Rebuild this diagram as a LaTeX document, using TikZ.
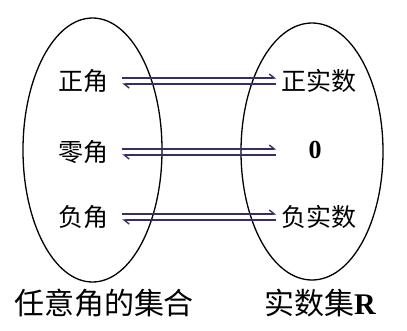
\documentclass[tikz,border=0pt]{standalone}
\usepackage{fontspec}
\setmainfont{Liberation Serif}
\newfontfamily\cjk{Noto Sans CJK SC}
\usetikzlibrary{arrows.meta}
\definecolor{arrcol}{RGB}{55,45,105}
\tikzset{
  lab/.style={font=\cjk\fontsize{25}{27}\selectfont, inner sep=0pt, text=black},
  blab/.style={font=\cjk\fontsize{30}{32}\selectfont, inner sep=0pt, text=black},
  setell/.style={draw=black, line width=1.3pt},
  harp/.style={draw=arrcol, line width=1.4pt, -{Straight Barb[left,length=5pt,width=8pt]}}
}
\begin{document}
\begin{tikzpicture}[x=1pt,y=-1pt]
\useasboundingbox (0,0) rectangle (407,330);
\draw[setell] (92.5,150) ellipse [x radius=69.5, y radius=132];
\draw[setell] (312,151.5) ellipse [x radius=71, y radius=128.5];
\node[lab] (l1) at (83,81) {正角};
\node[lab] (l2) at (83,152) {零角};
\node[lab] (l3) at (83,217) {负角};
\node[lab] (r1) at (319,81) {正实数};
\node[font=\fontsize{26}{28}\selectfont\bfseries, inner sep=0pt] (r2) at (315,150) {0};
\node[lab] (r3) at (319,217) {负实数};
\node[blab] (b1) at (104,303) {任意角的集合};
\node[blab, anchor=west] (b2) at (264,303) {实数集\textrm{\bfseries R}};
\foreach \i in {1,2,3}{
  \draw[harp] ([shift={(14,-3)}]l\i.east |- l\i) -- ([shift={(-5,-3)}]r1.west |- l\i);
  \draw[harp] ([shift={(-5,3)}]r1.west |- l\i) -- ([shift={(14,3)}]l\i.east |- l\i);
}
\end{tikzpicture}
\end{document}
